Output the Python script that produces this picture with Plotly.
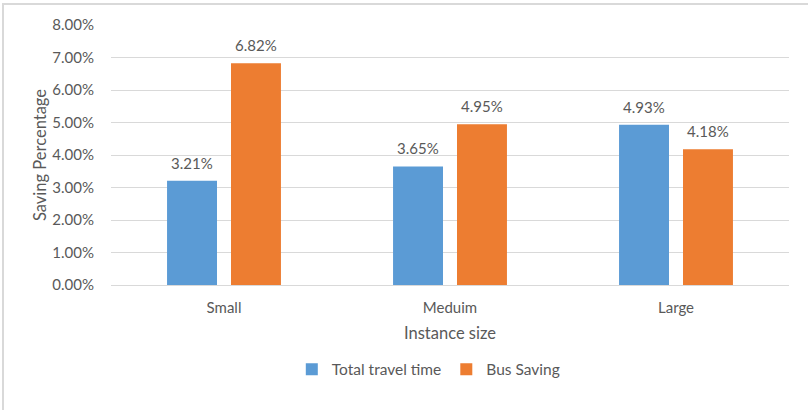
import plotly.graph_objects as go

categories = ["Small", "Meduim", "Large"]
total_travel_time = [0.0321, 0.0365, 0.0493]
bus_saving = [0.0682, 0.0495, 0.0418]
series_names = ["Total travel time", "Bus Saving"]
y_ticks = [0, 0.01, 0.02, 0.03, 0.04, 0.05, 0.06, 0.07, 0.08]

FONT = "Lato, Carlito, 'Open Sans', sans-serif"
GRAY = "#595959"

fig = go.Figure()
fig.add_trace(go.Bar(
    x=categories, y=total_travel_time, name=series_names[0],
    marker=dict(color="#5B9BD5", line=dict(width=0)),
))
fig.add_trace(go.Bar(
    x=categories, y=bus_saving, name=series_names[1],
    marker=dict(color="#ED7D31", line=dict(width=0)),
))

annotations = []
for series, shift in ((total_travel_time, -32), (bus_saving, 32)):
    for cat, val in zip(categories, series):
        annotations.append(dict(
            x=cat, y=val, xref="x", yref="y", text=f"{val:.2%}",
            showarrow=False, xshift=shift, yanchor="bottom", yshift=7,
            font=dict(size=15, color=GRAY, family=FONT),
        ))

fig.update_layout(
    width=808, height=410,
    margin=dict(l=111, r=19, t=25, b=125, autoexpand=False),
    paper_bgcolor="white", plot_bgcolor="white",
    barmode="group", bargap=0.434, bargroupgap=0.219,
    font=dict(family=FONT, color=GRAY, size=15),
    showlegend=True,
    annotations=annotations,
    legend=dict(orientation="h", x=0.468, xanchor="center", y=-0.26, yanchor="top",
                font=dict(size=15.5, color=GRAY, family=FONT), itemwidth=30,
                traceorder="normal"),
    xaxis=dict(
        title=dict(text="Instance size", font=dict(size=16.5, color=GRAY), standoff=12),
        showgrid=False, showline=False, ticks="", automargin=False,
        ticklabelstandoff=12,
        tickfont=dict(size=15, color=GRAY),
    ),
    yaxis=dict(
        title=dict(text="Saving Percentage", font=dict(size=16.5, color=GRAY), standoff=1),
        range=[0, 0.08], tickvals=y_ticks, tickformat=".2%",
        showgrid=True, gridcolor="#D9D9D9", gridwidth=1,
        zeroline=True, zerolinecolor="#D9D9D9", zerolinewidth=1,
        showline=False, ticks="", ticklabelstandoff=16, automargin=False,
        tickfont=dict(size=15, color=GRAY),
    ),
    shapes=[dict(type="rect", xref="paper", yref="paper",
                 x0=(3 - 111) / 678, x1=(830 - 111) / 678,
                 y0=(285 - 430) / 260, y1=(285 - 4) / 260,
                 line=dict(color="#D9D9D9", width=2), layer="below")],
)

fig.write_html(
    "out.html",
    config={"displayModeBar": False},
    post_script="document.body.style.margin='0';document.body.style.padding='0';",
)
